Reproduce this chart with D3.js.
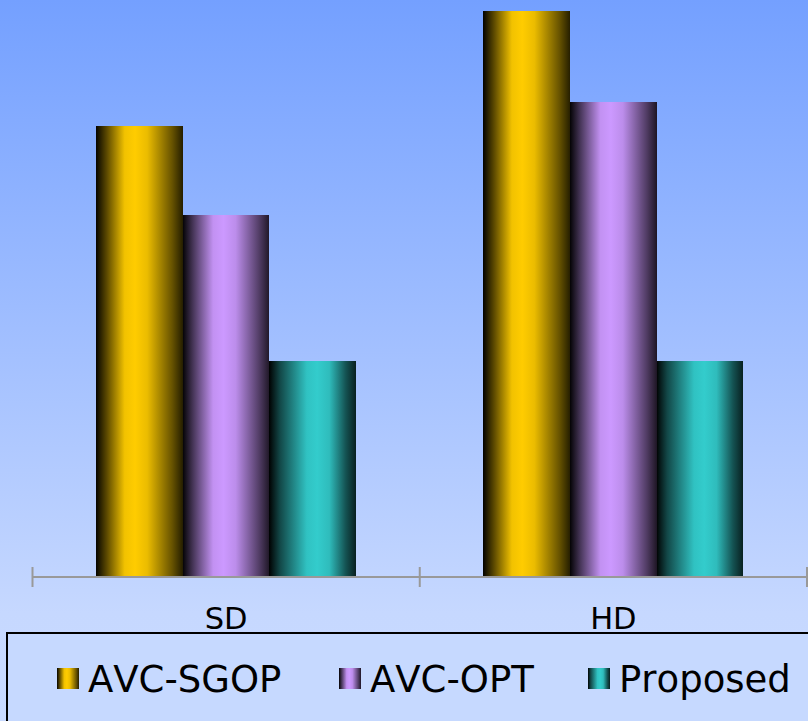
<!DOCTYPE html>
<html>
<head>
<meta charset="utf-8">
<script src="https://cdn.jsdelivr.net/npm/d3@7"></script>
<style>
  html, body { margin: 0; padding: 0; overflow: hidden; }
  svg { display: block; }
  text { font-family: "DejaVu Sans", Verdana, sans-serif; fill: #000; font-kerning: none; }
</style>
</head>
<body>
<svg id="chart" width="808" height="721"></svg>
<script>
// Categories, series and values
const categories = ["SD", "HD"];
const seriesNames = ["AVC-SGOP", "AVC-OPT", "Proposed"];
const sgopValues = [4.51, 5.66];
const optValues = [3.62, 4.75];
const proposedValues = [2.16, 2.16];

const seriesValues = [sgopValues, optValues, proposedValues];
const seriesColors = ["#ffcc00", "#cc99ff", "#33cccc"];
const seriesPeak = [0.45, 0.47, 0.55];

const W = 808, H = 721;
const baseY = 577;
const svg = d3.select("#chart");
const defs = svg.append("defs");

// Background: vertical blue wash
const bg = defs.append("linearGradient").attr("id", "bg")
  .attr("x1", 0).attr("y1", 0).attr("x2", 0).attr("y2", 1);
bg.append("stop").attr("offset", "0%").attr("stop-color", "#74a0ff");
bg.append("stop").attr("offset", "85%").attr("stop-color", "#c6d8ff");
bg.append("stop").attr("offset", "100%").attr("stop-color", "#c8daff");
svg.append("rect").attr("width", W).attr("height", H).attr("fill", "url(#bg)");

// Cylinder-like horizontal shading per series
seriesColors.forEach((c, i) => {
  const g = defs.append("linearGradient").attr("id", "bar" + i)
    .attr("x1", 0).attr("y1", 0).attr("x2", 1).attr("y2", 0);
  const base = d3.color(c);
  const dark = d3.interpolateRgb("#000", c);
  g.append("stop").attr("offset", "0%").attr("stop-color", dark(0.02));
  g.append("stop").attr("offset", "12%").attr("stop-color", dark(0.35));
  g.append("stop").attr("offset", (seriesPeak[i] * 100 - 12) + "%").attr("stop-color", dark(0.95));
  g.append("stop").attr("offset", (seriesPeak[i] * 100) + "%").attr("stop-color", base.formatHex());
  g.append("stop").attr("offset", (seriesPeak[i] * 100 + 14) + "%").attr("stop-color", dark(0.92));
  g.append("stop").attr("offset", "88%").attr("stop-color", dark(0.4));
  g.append("stop").attr("offset", "100%").attr("stop-color", dark(0.15));
});

// Scales
const x0 = d3.scaleBand().domain(categories).range([32.5, 807]).padding(0);
const x1 = d3.scaleBand().domain(seriesNames).range([0, x0.bandwidth()])
  .paddingInner(0).paddingOuter(0.733);
const y = d3.scaleLinear().domain([0, 5.77]).range([baseY, 0]);

// Bars
const groups = svg.append("g").selectAll("g").data(categories).join("g")
  .attr("transform", d => `translate(${x0(d)},0)`);
groups.selectAll("rect")
  .data((cat, ci) => seriesNames.map((s, si) => ({ s, si, v: seriesValues[si][ci] })))
  .join("rect")
  .attr("x", d => x1(d.s))
  .attr("width", x1.bandwidth())
  .attr("y", d => y(d.v))
  .attr("height", d => baseY - y(d.v))
  .attr("fill", d => `url(#bar${d.si})`)
  .attr("shape-rendering", "crispEdges");

// Category axis
const axis = svg.append("g").attr("transform", `translate(0,${baseY})`)
  .call(d3.axisBottom(x0).tickSize(0).tickPadding(0));
axis.select(".domain").remove();
axis.selectAll("text")
  .attr("y", 52).attr("dy", 0)
  .style("font-size", "30.5px")
  .style("font-family", '"DejaVu Sans", Verdana, sans-serif')
  .attr("fill", "#000");
axis.append("line")
  .attr("x1", x0.range()[0]).attr("x2", x0.range()[1])
  .attr("y1", 0).attr("y2", 0)
  .attr("stroke", "#999").attr("stroke-width", 2);
const edges = categories.map(c => x0(c)).concat([x0(categories[categories.length - 1]) + x0.bandwidth()]);
axis.selectAll(".edge").data(edges).join("line").attr("class", "edge")
  .attr("x1", d => d).attr("x2", d => d)
  .attr("y1", -10).attr("y2", 10)
  .attr("stroke", "#999").attr("stroke-width", 2);

// Legend
svg.append("rect")
  .attr("x", 7).attr("y", 633).attr("width", 820).attr("height", 110)
  .attr("fill", "#c6d9ff").attr("stroke", "#000").attr("stroke-width", 2);
const legendX = [57, 339, 588];
const legend = svg.append("g").selectAll("g").data(seriesNames).join("g")
  .attr("transform", (d, i) => `translate(${legendX[i]},0)`);
legend.append("rect")
  .attr("x", 0).attr("y", 668).attr("width", 22).attr("height", 21)
  .attr("fill", (d, i) => `url(#bar${i})`);
legend.append("text")
  .attr("x", 31).attr("y", 692)
  .style("font-size", "37px")
  .text(d => d);
</script>
</body>
</html>
